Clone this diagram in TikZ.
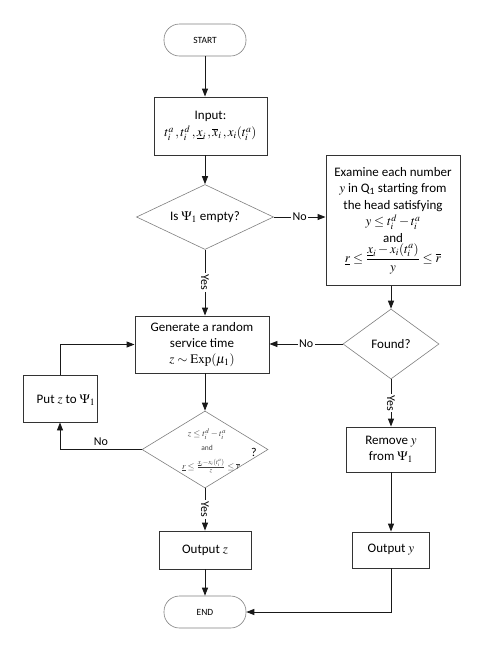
\documentclass[tikz,border=0pt]{standalone}
\usepackage{amsmath}
\usepackage{mathptmx}
\usepackage[no-math]{fontspec}
\setmainfont{Carlito}
\usetikzlibrary{shapes.geometric,arrows.meta}
\begin{document}
\begin{tikzpicture}[x=1pt,y=-1pt,
  font=\fontsize{13}{16}\selectfont,
  box/.style={draw=black!80, line width=0.9pt, rectangle, inner sep=0pt, align=center, fill=white},
  term/.style={draw=black!50, line width=0.6pt, rounded corners=15.5pt, inner sep=0pt, font=\fontsize{9.5}{11}\selectfont},
  dia/.style={draw=black!50, line width=0.6pt, diamond, inner sep=0pt},
  arr/.style={draw=black!90, line width=0.9pt, -{Triangle[length=8pt,width=6pt]}},
  lbl/.style={fill=white, inner sep=1.5pt, font=\fontsize{12}{14}\selectfont},
  condtext/.style={inner sep=0pt, text=black!75}]
\fill[white] (0,0) rectangle (484,654);
\useasboundingbox (0,0) rectangle (484,654);

% nodes
\node[term, minimum width=82pt, minimum height=32pt] (start) at (205,40) {START};
\node[box, minimum width=113pt, minimum height=58pt] (input) at (210.5,126)
  {Input:\\[1pt] $t_i^a\,, t_i^d\,, \underline{x}_i\,, \overline{x}_i\,, x_i(t_i^a)$};
\node[dia, minimum width=137pt, minimum height=65pt] (empty) at (205,217) {};
\node (emptytxt) at (empty) {Is $\Psi_1$ empty?};
\node[box, minimum width=134pt, minimum height=130pt, font=\fontsize{13}{16.5}\selectfont] (exam) at (393,220.5)
  {Examine each number\\ $y$ in Q\textsubscript{1} starting from\\ the head satisfying\\ $y\le t_i^d-t_i^a$\\ and\\ $\underline{r}\le\dfrac{\underline{x}_i-x_i(t_i^a)}{y}\le\overline{r}$};
\node[dia, minimum width=96pt, minimum height=70pt] (found) at (391,344) {};
\node (foundtxt) at (found) {Found?};
\node[box, minimum width=134pt, minimum height=57pt] (gen) at (202,344.5)
  {Generate a random\\ service time\\ $z\sim\mathrm{Exp}(\mu_1)$};
\node[dia, minimum width=126pt, minimum height=77pt] (cond) at (205,449.5) {};
\node[condtext, font=\fontsize{9}{10}\selectfont] (condl1) at (207,434) {$z\le t_i^d-t_i^a$};
\node[condtext, font=\fontsize{7.5}{8}\selectfont] (condand) at (207,447.5) {and};
\node[condtext, font=\fontsize{9}{10}\selectfont] (condl3) at (211,466) {$\underline{r}\le\frac{\underline{x}_i-x_i(t_i^a)}{z}\le\overline{r}$};
\node[font=\fontsize{12}{14}\selectfont] (qmark) at (254,452) {?};
\node[box, minimum width=74pt, minimum height=47pt] (put) at (60,398.5) {};
\node (puttxt) at (66,400) {Put $z$ to $\Psi_1$};
\node[box, minimum width=89pt, minimum height=45pt] (remove) at (391,449.5) {Remove $y$\\ from $\Psi_1$};
\node[box, minimum width=92pt, minimum height=38pt] (outz) at (205,550) {Output $z$};
\node[box, minimum width=77pt, minimum height=36pt] (outy) at (391,550) {Output $y$};
\node[term, minimum width=82pt, minimum height=32pt] (end) at (205,612) {END};

% connectors
\draw[arr] (start.south) -- (start.south |- input.north);
\draw[arr] (empty.north |- input.south) -- (empty.north);
\draw[arr] (empty.east) -- node[lbl]{No} (exam.west |- empty.east);
\draw[arr] (empty.south) -- node[lbl, rotate=-90]{Yes} (gen.north -| empty.south);
\draw[arr] (found.north |- exam.south) -- (found.north);
\draw[arr] (found.west) -- node[lbl]{No} (gen.east |- found.west);
\draw[arr] (found.south) -- node[lbl, rotate=-90]{Yes} (remove.north);
\draw[arr] (remove.south) -- (outy.north);
\draw[arr] (outy.south) |- (end.east);
\draw[arr] (cond.north |- gen.south) -- (cond.north);
\draw[arr] (cond.south) -- node[lbl, rotate=-90]{Yes} (outz.north);
\draw[arr] (outz.south) -- (end.north);
\draw[arr] (cond.west) -| node[pos=0.25, above=0pt, font=\fontsize{12}{14}\selectfont]{No} (put.south);
\draw[arr] (put.north) |- (gen.west);
\end{tikzpicture}
\end{document}
